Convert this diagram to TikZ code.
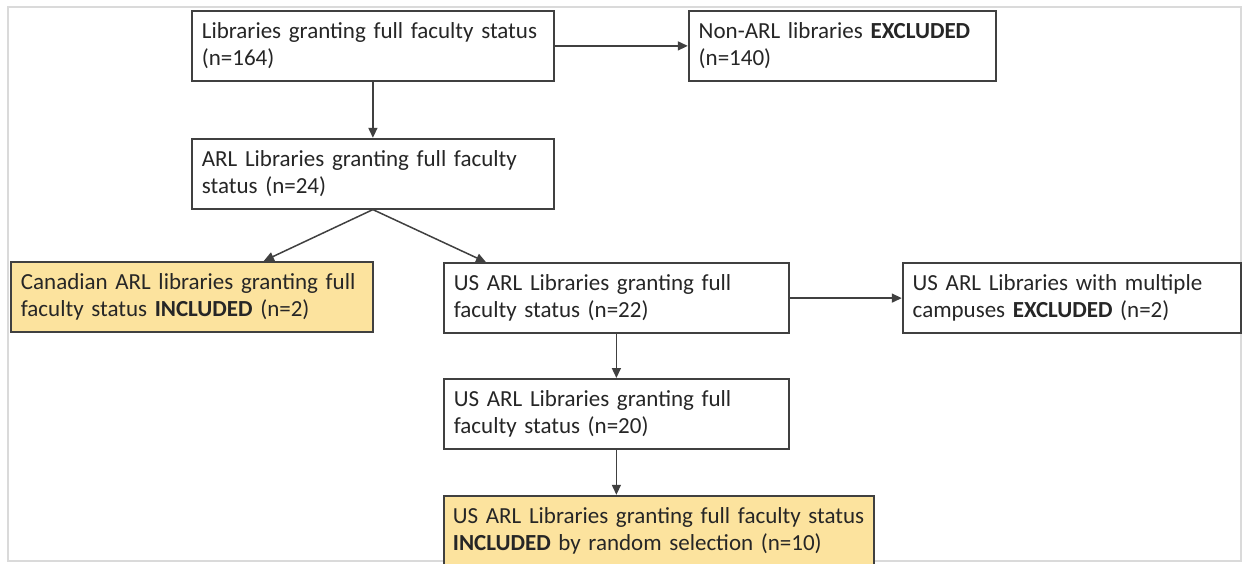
\documentclass[tikz,border=0pt]{standalone}
\usepackage{fontspec}
\setmainfont{Carlito}
\usetikzlibrary{arrows.meta,positioning}
\definecolor{inclYellow}{RGB}{252,227,158}
\definecolor{lineGray}  {RGB}{ 64, 64, 64}
\definecolor{frameGray} {RGB}{218,218,218}

\begin{document}
\begin{tikzpicture}[
        box/.style={draw=lineGray, line width=0.9pt, fill=white,
                    align=left, inner xsep=5pt, inner ysep=2pt,
                    minimum height=35pt, text=black!85,
                    font=\fontsize{11.5}{13.6}\selectfont},
        incl/.style={box, fill=inclYellow},
        arr/.style={-{Triangle[length=5pt,width=4.5pt]},
                    line width=0.75pt, lineGray},
        node distance=28pt]
        \useasboundingbox (0,0) rectangle (621.5pt,-281.5pt);
        \draw[frameGray, line width=0.8pt]
          (4pt,-3.5pt) rectangle (620.5pt,-280.5pt);
        \node[box, text width=171pt, anchor=north west] (lib)
          at (95.5pt,-5pt)
          {Libraries granting full faculty status\\(n=164)};
        \node[box, text width=143.5pt, right=66.5pt of lib] (nonarl)
          {Non-ARL libraries \textbf{EXCLUDED}\\(n=140)};
        \node[box, text width=171pt, below=of lib] (arl)
          {ARL Libraries granting full faculty\\status (n=24)};
        \node[incl, text width=171pt, below=25.6pt of arl,
              xshift=-90.5pt] (can)
          {Canadian ARL libraries granting full\\
           faculty status \textbf{INCLUDED} (n=2)};
        \node[box, text width=162.5pt, below=26.3pt of arl,
              xshift=121.75pt] (us22)
          {US ARL Libraries granting full\\faculty status (n=22)};
        \node[box, text width=159pt, right=56pt of us22] (multi)
          {US ARL Libraries with multiple\\
           campuses \textbf{EXCLUDED} (n=2)};
        \node[box, text width=162.5pt, below=22pt of us22] (us20)
          {US ARL Libraries granting full\\faculty status (n=20)};
        \node[incl, text width=206pt, inner xsep=4.5pt,
              below=22.5pt of us20.south west, anchor=north west] (usinc)
          {US ARL Libraries granting full faculty status\\
           \textbf{INCLUDED} by random selection (n=10)};
        \draw[arr] (lib) -- (arl);
        \draw[arr] (lib) -- (nonarl);
        \draw[arr] (arl.south) -- ([xshift=36pt]can.north);
        \draw[arr] (arl.south) -- ([xshift=21.5pt]us22.north west);
        \draw[arr] (us22) -- (multi);
        \draw[arr] (us22) -- (us20);
        \draw[arr] (us20.south) -- (us20.south |- usinc.north);
      \end{tikzpicture}
\end{document}
